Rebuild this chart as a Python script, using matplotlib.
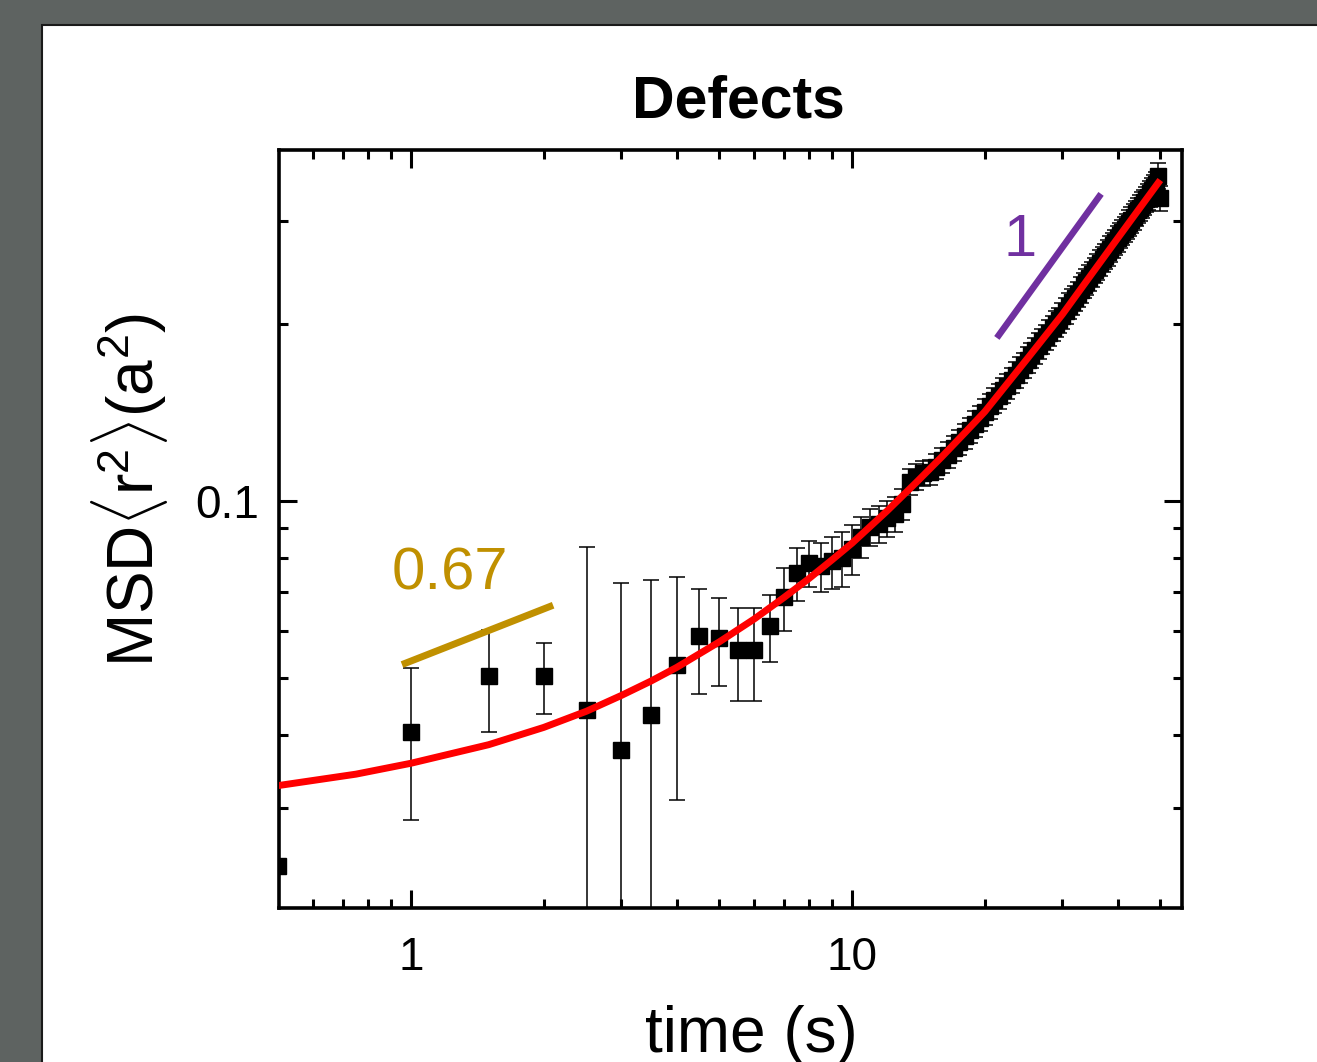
import matplotlib
matplotlib.use("Agg")
import matplotlib.pyplot as plt
from matplotlib.patches import Rectangle
from matplotlib.ticker import FixedLocator, FuncFormatter, NullFormatter, LogLocator

plt.rcParams['font.family'] = ['Liberation Sans', 'DejaVu Sans']
plt.rcParams['mathtext.fontset'] = 'custom'
plt.rcParams['mathtext.rm'] = 'Liberation Sans'
plt.rcParams['mathtext.it'] = 'Liberation Sans:italic'

# ---- data ----
time_early = [0.5, 1.0, 1.5, 2.0, 2.5, 3.0, 3.5, 4.0, 4.5, 5.0, 5.5, 6.0, 6.5, 7.0, 7.5]
msd_early = [0.0239, 0.0404, 0.0504, 0.0504, 0.0441, 0.0377, 0.0433, 0.0527, 0.0589,
             0.0584, 0.0557, 0.0557, 0.0612, 0.0686, 0.0754]
err_early = [0.0, 0.0117, 0.0100, 0.0070, 0.0395, 0.0349, 0.0301, 0.0217, 0.0120,
             0.0100, 0.0100, 0.0100, 0.0080, 0.0085, 0.0078]

time_late = [8.0, 8.5, 9.0, 9.5, 10.0, 10.5, 11.0, 11.5, 12.0, 12.5, 13.0, 13.5, 14.0,
             14.5, 15.0, 15.5, 16.0, 16.5, 17.0, 17.5, 18.0, 18.5, 19.0, 19.5, 20.0,
             20.5, 21.0, 21.5, 22.0, 22.5, 23.0, 23.5, 24.0, 24.5, 25.0, 25.5, 26.0,
             26.5, 27.0, 27.5, 28.0, 28.5, 29.0, 29.5, 30.0, 30.5, 31.0, 31.5, 32.0,
             32.5, 33.0, 33.5, 34.0, 34.5, 35.0, 35.5, 36.0, 36.5, 37.0, 37.5, 38.0,
             38.5, 39.0, 39.5, 40.0, 40.5, 41.0, 41.5, 42.0, 42.5, 43.0, 43.5, 44.0,
             44.5, 45.0, 45.5, 46.0, 46.5, 47.0, 47.5, 48.0, 48.5, 49.0, 49.5, 50.0]
msd_late = [0.0784, 0.0775, 0.0790, 0.0800, 0.0830, 0.0870, 0.0905, 0.0915, 0.0935,
            0.0950, 0.0990, 0.1080, 0.1100, 0.1115, 0.1120, 0.1145, 0.1175, 0.1200,
            0.1230, 0.1260, 0.1290, 0.1320, 0.1355, 0.1385, 0.1420, 0.1450, 0.1485,
            0.1510, 0.1545, 0.1570, 0.1605, 0.1640, 0.1675, 0.1705, 0.1740, 0.1770,
            0.1805, 0.1840, 0.1870, 0.1900, 0.1935, 0.1970, 0.2005, 0.2035, 0.2070,
            0.2110, 0.2150, 0.2185, 0.2215, 0.2250, 0.2290, 0.2330, 0.2365, 0.2400,
            0.2435, 0.2470, 0.2505, 0.2545, 0.2580, 0.2615, 0.2650, 0.2690, 0.2725,
            0.2760, 0.2800, 0.2835, 0.2870, 0.2905, 0.2940, 0.2980, 0.3015, 0.3050,
            0.3090, 0.3125, 0.3160, 0.3195, 0.3230, 0.3265, 0.3300, 0.3340, 0.3380,
            0.3420, 0.3460, 0.3580, 0.3280]
err_late = [0.0070, 0.0075, 0.0080, 0.0085, 0.0080, 0.0070, 0.0065, 0.0065, 0.0065,
            0.0065, 0.0060, 0.0055, 0.0055, 0.0055, 0.0055, 0.0056, 0.0058, 0.0060,
            0.0061, 0.0063, 0.0064, 0.0066, 0.0067, 0.0069, 0.0070, 0.0072, 0.0074,
            0.0075, 0.0077, 0.0078, 0.0080, 0.0082, 0.0083, 0.0085, 0.0087, 0.0088,
            0.0090, 0.0092, 0.0093, 0.0095, 0.0097, 0.0098, 0.0100, 0.0101, 0.0103,
            0.0105, 0.0107, 0.0109, 0.0110, 0.0112, 0.0114, 0.0116, 0.0118, 0.0120,
            0.0121, 0.0123, 0.0125, 0.0127, 0.0129, 0.0130, 0.0132, 0.0134, 0.0136,
            0.0138, 0.0140, 0.0141, 0.0143, 0.0145, 0.0147, 0.0149, 0.0150, 0.0152,
            0.0154, 0.0156, 0.0158, 0.0160, 0.0161, 0.0163, 0.0165, 0.0167, 0.0169,
            0.0171, 0.0173, 0.0178, 0.0165]

fit_time = [0.5, 0.75, 1.0, 1.5, 2.0, 2.5, 3.0, 3.5, 4.0, 5.0, 6.0, 7.0, 8.0, 9.0,
            10.0, 12.0, 14.0, 16.0, 18.0, 20.0, 25.0, 30.0, 35.0, 40.0, 45.0, 50.0]
fit_msd = [0.0328, 0.0343, 0.0358, 0.0385, 0.0412, 0.0439, 0.0467, 0.0494, 0.0521,
           0.0576, 0.0630, 0.0685, 0.0739, 0.0794, 0.0848, 0.0962, 0.1077, 0.1191,
           0.1306, 0.1420, 0.1750, 0.2080, 0.2440, 0.2800, 0.3160, 0.3520]

guide_067_time = [0.954, 2.10]
guide_067_msd = [0.0527, 0.0665]
guide_1_time = [21.3, 36.7]
guide_1_msd = [0.1896, 0.3334]

x_ticks = [1, 10]
y_ticks = [0.1]
x_limits = (0.502, 56.0)
y_limits = (0.0203, 0.396)

GOLD = '#C09000'
PURPLE = '#7030A0'

# ---- figure ----
W, H = 1317, 1062
fig = plt.figure(figsize=(W / 100, H / 100), dpi=100, facecolor='#5E6361')
page = Rectangle((42 / W, -0.01), 1.0, (H - 25) / H + 0.01, transform=fig.transFigure,
                 facecolor='white', edgecolor='#1a1a1a', linewidth=1.5, zorder=-10)
fig.patches.append(page)

ax = fig.add_axes([279 / W, (H - 908) / H, (1182 - 279) / W, (908 - 150) / H])
ax.set_zorder(5)
ax.set_facecolor('white')
ax.set_xscale('log')
ax.set_yscale('log')
ax.set_xlim(*x_limits)
ax.set_ylim(*y_limits)

eb_kw = dict(fmt='s', color='black', ms=12, mec='black', ecolor='black',
             elinewidth=1.1, capsize=6, capthick=1.1, zorder=3)
ax.errorbar(time_early, msd_early, yerr=err_early, **eb_kw)
ax.errorbar(time_late, msd_late, yerr=err_late, **eb_kw)

ax.plot(fit_time, fit_msd, color='#FF0000', lw=5, zorder=4, solid_capstyle='butt',
        solid_joinstyle='round')
ax.plot(guide_067_time, guide_067_msd, color=GOLD, lw=5, zorder=4, solid_capstyle='butt')
ax.plot(guide_1_time, guide_1_msd, color=PURPLE, lw=4.7, zorder=4, solid_capstyle='butt')

ax.text(1.226, 0.0751, '0.67', color=GOLD, fontsize=43, ha='center', va='center')
ax.text(24.0, 0.278, '1', color=PURPLE, fontsize=43, ha='center', va='center')

# ticks
ax.xaxis.set_major_locator(FixedLocator(x_ticks))
ax.yaxis.set_major_locator(FixedLocator(y_ticks))
ax.xaxis.set_minor_locator(LogLocator(base=10, subs=[2, 3, 4, 5, 6, 7, 8, 9]))
ax.yaxis.set_minor_locator(LogLocator(base=10, subs=[2, 3, 4, 5, 6, 7, 8, 9]))
fmt = FuncFormatter(lambda v, p: f'{v:g}')
ax.xaxis.set_major_formatter(fmt)
ax.yaxis.set_major_formatter(fmt)
ax.xaxis.set_minor_formatter(NullFormatter())
ax.yaxis.set_minor_formatter(NullFormatter())
ax.tick_params(which='both', direction='in', top=True, right=True, width=2.2,
               labelsize=33)
ax.tick_params(which='major', length=13)
ax.tick_params(which='minor', length=6.5)
ax.tick_params(axis='x', which='major', pad=20)
ax.tick_params(axis='y', which='major', pad=14)
for s in ax.spines.values():
    s.set_linewidth(2.6)

fig.text(738 / W, 1 - 117 / H, 'Defects', fontsize=42.5, fontweight='bold',
         ha='center', va='baseline')
fig.text(751 / W, 1 - 1052 / H, 'time (s)', fontsize=46, ha='center', va='baseline')
fig.text(130 / W, 1 - 490 / H, r'MSD$\langle$r$^{2}\rangle$(a$^{2}$)', fontsize=46,
         rotation=90, ha='center', va='center')

fig.savefig('out.png', dpi=100, facecolor=fig.get_facecolor())
